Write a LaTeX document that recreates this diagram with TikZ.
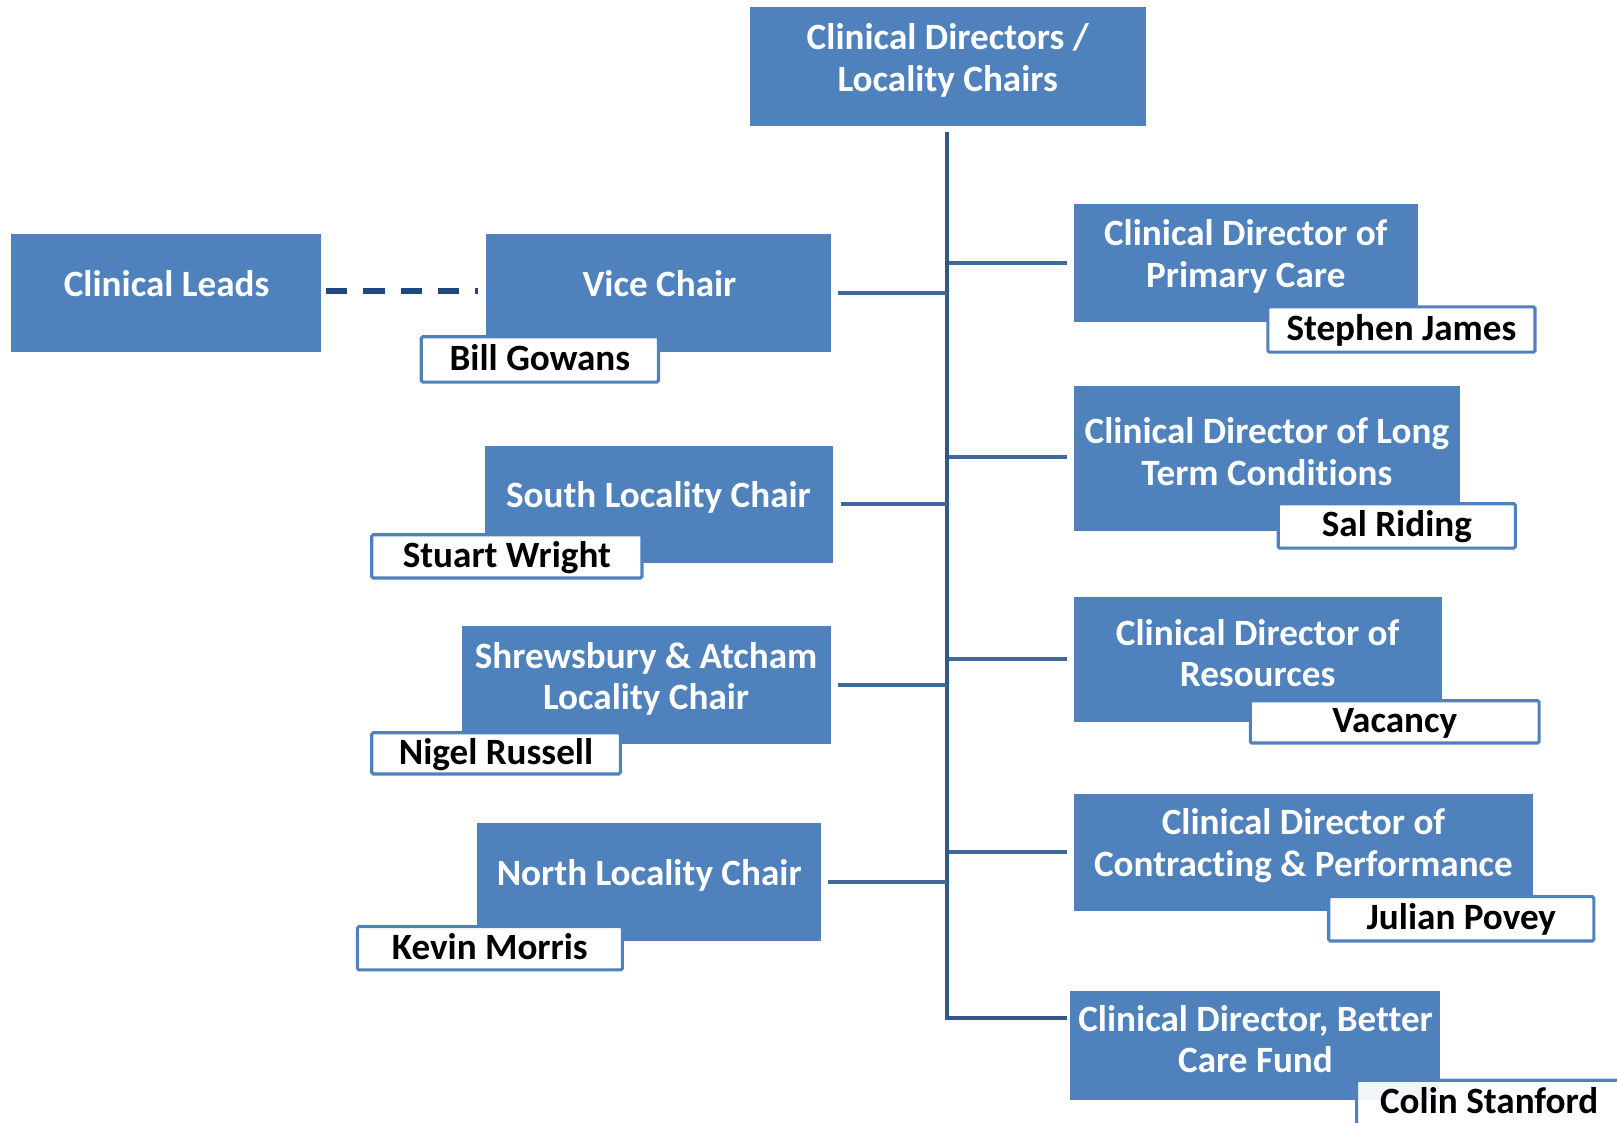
\documentclass[tikz,border=0pt]{standalone}
\usepackage{fontspec}
\setmainfont{Carlito}[Ligatures=NoCommon]
\definecolor{cblue}{RGB}{79,129,189}
\definecolor{cline}{RGB}{64,104,154}
\definecolor{ctrunk}{RGB}{50,88,138}
\definecolor{cdash}{RGB}{31,73,125}
\tikzset{
  bluebox/.style={rectangle, fill=cblue, draw=none, inner sep=0pt},
  btext/.style={text=white, font=\fontsize{36}{40}\selectfont\bfseries, align=center, inner sep=0pt},
  bone/.style={btext, text height=27pt, text depth=6pt},
  namebox/.style={rectangle, fill=white, draw=cblue, line width=3pt, rounded corners=1.5pt, inner sep=0pt,
    text=black, font=\fontsize{36}{40}\selectfont\bfseries, text height=27pt, text depth=6pt},
  conn/.style={draw=cline, line width=3.5pt},
  trunk/.style={draw=ctrunk, line width=4pt},
  dashconn/.style={draw=cdash, line width=5.5pt, dash pattern=on 20.5pt off 15.7pt}
}
\begin{document}
\begin{tikzpicture}[x=1pt,y=-1pt]
\useasboundingbox (0,0) rectangle (1568,1088);
\clip (0,0) rectangle (1568,1088);
% blue boxes
\node[bluebox, minimum width=384pt, minimum height=115pt] (top) at (919,64.5) {};
\node[bluebox, minimum width=300pt, minimum height=114pt] (leads) at (161,284) {};
\node[bluebox, minimum width=335pt, minimum height=114pt] (vice) at (638.5,284) {};
\node[bluebox, minimum width=338pt, minimum height=114pt] (south) at (639,489) {};
\node[bluebox, minimum width=358pt, minimum height=114pt] (shrew) at (627,664) {};
\node[bluebox, minimum width=333pt, minimum height=114pt] (north) at (629.5,855) {};
\node[bluebox, minimum width=334pt, minimum height=114pt] (pc) at (1208,255) {};
\node[bluebox, minimum width=375pt, minimum height=141pt] (ltc) at (1228.5,444.5) {};
\node[bluebox, minimum width=357pt, minimum height=121pt] (res) at (1219.5,639.5) {};
\node[bluebox, minimum width=446pt, minimum height=113pt] (con) at (1264,826.5) {};
\node[bluebox, minimum width=358pt, minimum height=106pt] (bcf) at (1217,1014) {};
% texts
\node[btext] (topt) at (919,58.5) {Clinical Directors /\\Locality Chairs};
\node[bone] (leadst) at (161.5,277) {Clinical Leads};
\node[bone] (vicet) at (639.5,277) {Vice Chair};
\node[bone] (southt) at (638.5,482) {South Locality Chair};
\node[btext] (shrewt) at (626.5,658.5) {Shrewsbury \& Atcham\\Locality Chair};
\node[bone] (northt) at (629.5,848) {North Locality Chair};
\node[btext] (pct) at (1208,248.5) {Clinical Director of\\Primary Care};
\node[btext] (ltct) at (1228.5,438) {Clinical Director of Long\\Term Conditions};
\node[btext] (rest) at (1219.5,633) {Clinical Director of\\Resources};
\node[btext] (cont) at (1264,820) {Clinical Director of\\Contracting \& Performance};
\node[btext] (bcft) at (1217.5,1007.5) {Clinical Director, Better\\Care Fund};
% name boxes
\node[namebox, minimum width=230pt, minimum height=44pt] (bill) at (523.5,348.5) {Bill Gowans};
\node[namebox, minimum width=262pt, minimum height=42pt] (stuart) at (491.5,539.5) {Stuart Wright};
\node[namebox, minimum width=241pt, minimum height=40pt] (nigel) at (481,730.5) {Nigel Russell};
\node[namebox, minimum width=257pt, minimum height=42pt] (kevin) at (475,919.5) {Kevin Morris};
\node[namebox, minimum width=259pt, minimum height=44pt] (stephen) at (1359,319.5) {Stephen James};
\node[namebox, minimum width=230pt, minimum height=43pt] (sal) at (1354.5,510) {Sal Riding};
\node[namebox, minimum width=280pt, minimum height=41pt] (vacancy) at (1352.5,700) {Vacancy};
\node[namebox, minimum width=257pt, minimum height=43pt] (julian) at (1417,891) {Julian Povey};
\node[namebox, fill opacity=0.92, text opacity=1, minimum width=257pt, minimum height=43pt] (colin) at (1444,1069) {Colin Stanford};
% trunk
\coordinate (tb) at (918,987);
\draw[trunk] ([yshift=-6pt]top.south -| tb) -- (tb) -- ([xshift=-3pt]tb -| bcf.west);
% junctions
\coordinate (jvice) at (918,284);
\coordinate (jsouth) at (918,489);
\coordinate (jshrew) at (918,664);
\coordinate (jnorth) at (918,855);
\coordinate (jpc) at (920,255);
\coordinate (jltc) at (920,443);
\coordinate (jres) at (920,639);
\coordinate (jcon) at (920,826);
\draw[conn, shorten <=6pt] (vice.east) -- (jvice);
\draw[conn, shorten <=7pt] (south.east) -- (jsouth);
\draw[conn, shorten <=6pt] (shrew.east) -- (jshrew);
\draw[conn, shorten <=7pt] (north.east) -- (jnorth);
\draw[conn, shorten >=6pt] (jpc) -- (jpc -| pc.west);
\draw[conn, shorten >=6pt] (jltc) -- (jltc -| ltc.west);
\draw[conn, shorten >=6pt] (jres) -- (jres -| res.west);
\draw[conn, shorten >=6pt] (jcon) -- (jcon -| con.west);
% dashed
\draw[dashconn, shorten <=5pt, shorten >=7.5pt] ([yshift=2pt]leads.east) -- ([yshift=2pt]vice.west);
\end{tikzpicture}
\end{document}
